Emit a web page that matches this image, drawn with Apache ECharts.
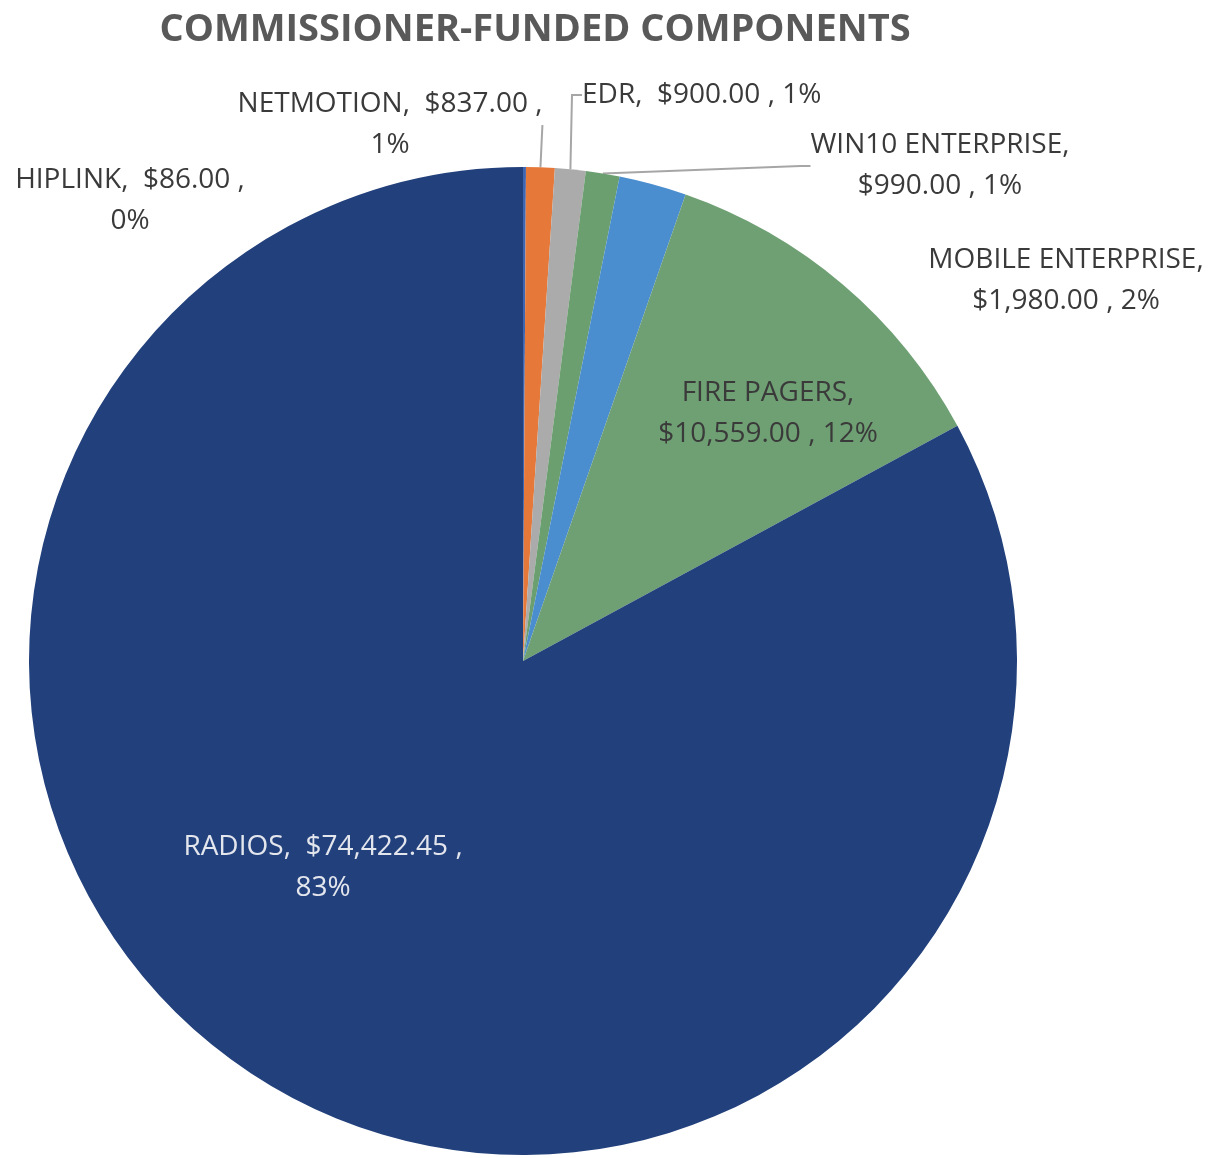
<!DOCTYPE html>
<html>
<head>
<meta charset="utf-8">
<script src="https://cdn.jsdelivr.net/npm/echarts@6/dist/echarts.min.js"></script>
<style>
  html, body { margin: 0; padding: 0; background: #fff; }
  #chart { width: 1226px; height: 1158px; }
</style>
</head>
<body>
<div id="chart"></div>
<script>
var categories = ['HIPLINK', 'NETMOTION', 'EDR', 'WIN10 ENTERPRISE', 'MOBILE ENTERPRISE', 'FIRE PAGERS', 'RADIOS'];
var amounts = [86, 837, 900, 990, 1980, 10559, 74422.45];
var colors = ['#3d66b3', '#e6783a', '#ababab', '#6b9f70', '#4b8ed0', '#6fa074', '#22407b'];

// label anchor points (Excel-style placement)
var labelPos = [
    { x: 130, y: 201, align: 'center' },
    { x: 390, y: 125, align: 'center' },
    { x: 582, y: 95, align: 'left' },
    { x: 940, y: 166, align: 'center' },
    { x: 1066, y: 281, align: 'center' },
    { x: 768, y: 414, align: 'center' },
    { x: 323, y: 868, align: 'center' }
];
var labelText = [
    'HIPLINK,  $86.00 ,\n0%',
    'NETMOTION,  $837.00 ,\n1%',
    'EDR,  $900.00 , 1%',
    'WIN10 ENTERPRISE,\n$990.00 , 1%',
    'MOBILE ENTERPRISE,\n$1,980.00 , 2%',
    'FIRE PAGERS,\n$10,559.00 , 12%',
    'RADIOS,  $74,422.45 ,\n83%'
];
var showLine = [false, true, true, true, false, false, false];

var myChart = echarts.init(document.getElementById('chart'));

var data = categories.map(function (name, i) {
    return {
        name: name,
        value: amounts[i],
        itemStyle: { color: colors[i] },
        label: {
            color: i === 6 ? '#e4e6ee' : '#3a3a3a'
        },
        labelLine: { show: showLine[i] }
    };
});

option = {
    animation: false,
    title: {
        text: 'COMMISSIONER-FUNDED COMPONENTS',
        left: 530,
        top: 6,
        textAlign: 'center',
        textStyle: {
            fontFamily: 'Open Sans',
            fontWeight: 'bold',
            fontSize: 38,
            color: '#595959'
        }
    },
    series: [
        {
            type: 'pie',
            center: [523, 661],
            radius: 494,
            startAngle: 90,
            clockwise: true,
            data: data,
            label: {
                show: true,
                position: 'outside',
                overflow: 'none',
                fontFamily: 'Open Sans',
                fontSize: 28,
                lineHeight: 41,
                formatter: function (p) {
                    return labelText[p.dataIndex];
                }
            },
            labelLine: {
                show: true,
                length: 10,
                length2: 10,
                lineStyle: { color: '#a6a6a6', width: 2 }
            },
            labelLayout: function (p) {
                var lp = labelPos[p.dataIndex];
                return {
                    x: lp.x,
                    y: lp.y,
                    align: lp.align,
                    verticalAlign: 'middle'
                };
            },
            emphasis: { disabled: true }
        }
    ]
};

myChart.setOption(option);
window.addEventListener('resize', function () {
    myChart.resize();
});
</script>
</body>
</html>
